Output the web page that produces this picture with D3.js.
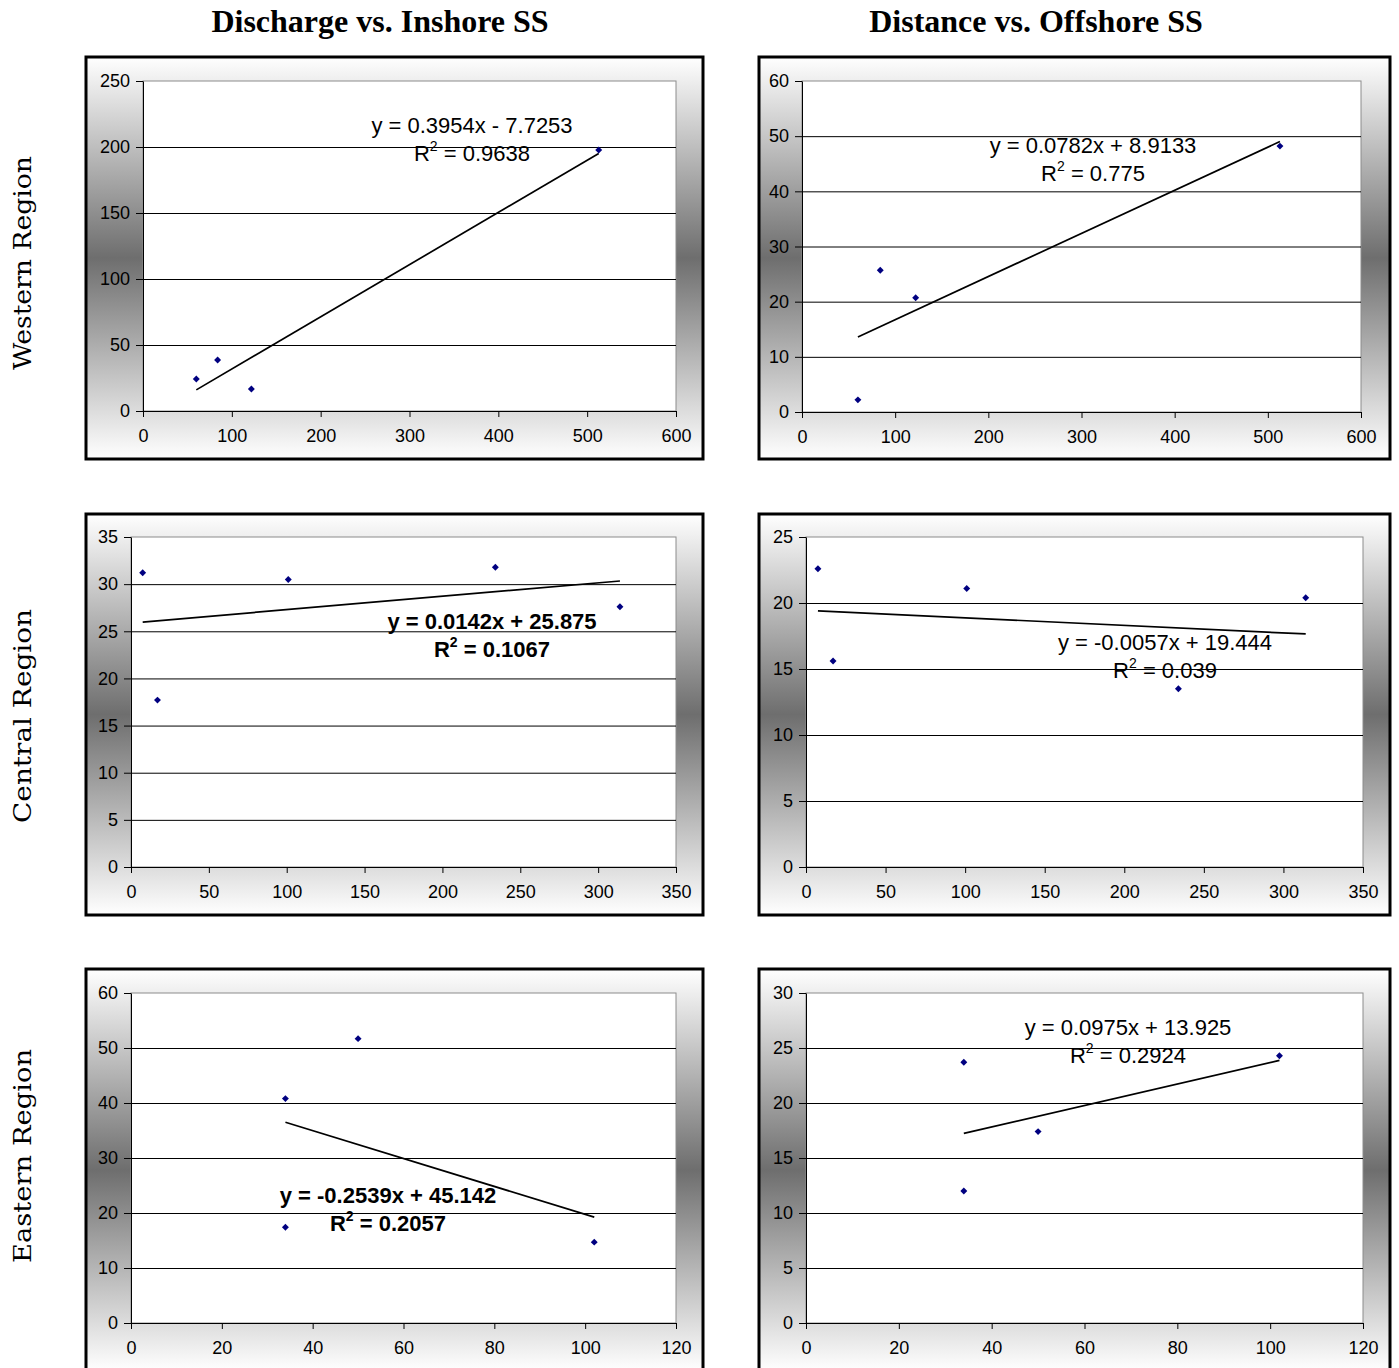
<!DOCTYPE html>
<html>
<head>
<meta charset="utf-8">
<script src="https://cdn.jsdelivr.net/npm/d3@7"></script>
<style>
  body { margin: 0; background: #fff; }
  text { font-family: "Liberation Sans", Arial, sans-serif; }
</style>
</head>
<body>
<svg id="chart" width="1399" height="1368"></svg>
<script>
// ---- data ----
const columnTitles = ["Discharge vs. Inshore SS", "Distance vs. Offshore SS"];
const rowTitles = ["Western Region", "Central Region", "Eastern Region"];

const westX = [60, 84, 122, 513];
const westInshore = [24.2, 38.6, 16.7, 197.7];
const westOffshore = [2.2, 25.7, 20.7, 48.2];

const centralX = [7.5, 17, 101, 234, 314];
const centralInshore = [31.2, 17.7, 30.5, 31.8, 27.6];
const centralOffshore = [22.6, 15.6, 21.1, 13.5, 20.4];

const eastX = [34, 50, 34, 102];
const eastInshore = [40.8, 51.7, 17.4, 14.7];
const eastOffshore = [23.7, 17.4, 12.0, 24.3];

// trendline equations as printed on each panel
const slopes = ["0.3954", "0.0782", "0.0142", "-0.0057", "-0.2539", "0.0975"];
const intercepts = ["-7.7253", "8.9133", "25.875", "19.444", "45.142", "13.925"];
const rSquared = ["0.9638", "0.775", "0.1067", "0.039", "0.2057", "0.2924"];

// axis ranges and tick steps per panel
const xMax = [600, 600, 350, 350, 120, 120];
const xStep = [100, 100, 50, 50, 20, 20];
const yMax = [250, 60, 35, 25, 60, 30];
const yStep = [50, 10, 5, 5, 10, 5];

const seriesX = [westX, westX, centralX, centralX, eastX, eastX];
const seriesY = [westInshore, westOffshore, centralInshore, centralOffshore, eastInshore, eastOffshore];

// ---- layout ----
const frames = [
  {x: 86, y: 57, w: 617, h: 402}, {x: 759, y: 57, w: 631, h: 402},
  {x: 86, y: 514, w: 617, h: 401}, {x: 759, y: 514, w: 631, h: 401},
  {x: 86, y: 969, w: 617, h: 402}, {x: 759, y: 969, w: 631, h: 402}
];
const plots = [
  {x: 143, y: 81, w: 533, h: 330}, {x: 802, y: 81, w: 559, h: 331},
  {x: 131, y: 537, w: 545, h: 330}, {x: 806, y: 537, w: 557, h: 330},
  {x: 131, y: 993, w: 545, h: 330}, {x: 806, y: 993, w: 557, h: 330}
];
// equation label: centre x and first baseline, relative to plot's top-left
const labelPos = [[329, 52], [291, 72], [361, 92], [359, 113], [257, 210], [322, 42]];
const boldLabel = [false, false, true, false, true, false];

const svg = d3.select("#chart");

const defs = svg.append("defs");
const grad = defs.append("linearGradient")
  .attr("id", "bg").attr("x1", 0).attr("y1", 0).attr("x2", 0).attr("y2", 1);
grad.append("stop").attr("offset", "0%").attr("stop-color", "#ffffff");
grad.append("stop").attr("offset", "50%").attr("stop-color", "#6e6e6e");
grad.append("stop").attr("offset", "100%").attr("stop-color", "#ffffff");

// column titles
[380, 1036].forEach((cx, i) => {
  svg.append("text")
    .attr("x", cx).attr("y", 32)
    .attr("text-anchor", "middle")
    .style("font-family", "'Liberation Serif', 'Times New Roman', serif")
    .style("font-weight", "bold")
    .style("font-size", "32px")
    .text(columnTitles[i]);
});

// row titles
[263, 716, 1156].forEach((cy, i) => {
  svg.append("text")
    .attr("transform", `translate(31,${cy}) rotate(-90)`)
    .attr("text-anchor", "middle")
    .attr("textLength", 214)
    .attr("lengthAdjust", "spacingAndGlyphs")
    .style("font-family", "'DejaVu Serif', serif")
    .style("font-size", "25px")
    .text(rowTitles[i]);
});

function eqText(i) {
  const b = intercepts[i];
  const sign = b.startsWith("-") ? " - " : " + ";
  return `y = ${slopes[i]}x${sign}${b.replace("-", "")}`;
}

plots.forEach((p, i) => {
  const f = frames[i];
  svg.append("rect")
    .attr("x", f.x).attr("y", f.y).attr("width", f.w).attr("height", f.h)
    .attr("fill", "url(#bg)")
    .attr("stroke", "#000").attr("stroke-width", 3);

  const g = svg.append("g").attr("transform", `translate(${p.x},${p.y})`);

  const x = d3.scaleLinear().domain([0, xMax[i]]).range([0, p.w]);
  const y = d3.scaleLinear().domain([0, yMax[i]]).range([p.h, 0]);
  const xTicks = d3.range(0, xMax[i] + xStep[i] / 2, xStep[i]);
  const yTicks = d3.range(0, yMax[i] + yStep[i] / 2, yStep[i]);

  g.append("rect")
    .attr("width", p.w).attr("height", p.h)
    .attr("fill", "#fff").attr("stroke", "#8c8c8c").attr("stroke-width", 1);

  g.selectAll(".grid")
    .data(yTicks.filter(v => v > 0 && v < yMax[i]))
    .enter().append("line")
    .attr("x1", 0).attr("x2", p.w)
    .attr("y1", d => y(d) + 0.5).attr("y2", d => y(d) + 0.5)
    .attr("stroke", "#000").attr("stroke-width", 1);

  const yAxis = g.append("g")
    .call(d3.axisLeft(y).tickValues(yTicks).tickSize(7).tickPadding(6).tickSizeOuter(0));
  const xAxis = g.append("g")
    .attr("transform", `translate(0,${p.h})`)
    .call(d3.axisBottom(x).tickValues(xTicks).tickSize(6).tickPadding(12).tickSizeOuter(0));
  [xAxis, yAxis].forEach(a => {
    a.selectAll("text").style("font-size", "18px").attr("fill", "#000")
      .style("font-family", "'Liberation Sans', Arial, sans-serif");
    a.selectAll("path, line").attr("stroke", "#000");
  });

  // trendline over the x extent of the series
  const m = +slopes[i], b = +intercepts[i];
  const ext = d3.extent(seriesX[i]);
  g.append("path")
    .datum(ext)
    .attr("d", d3.line().x(d => x(d)).y(d => y(m * d + b)))
    .attr("fill", "none").attr("stroke", "#000").attr("stroke-width", 1.7);

  const pts = seriesX[i].map((v, k) => [v, seriesY[i][k]]);
  g.selectAll(".pt")
    .data(pts)
    .enter().append("path")
    .attr("d", d3.symbol(d3.symbolSquare, 24))
    .attr("transform", d => `translate(${x(d[0])},${y(d[1])}) rotate(45)`)
    .attr("fill", "#000080");

  const [lx, ly] = labelPos[i];
  const weight = boldLabel[i] ? "bold" : "normal";
  g.append("text")
    .attr("x", lx).attr("y", ly)
    .attr("text-anchor", "middle")
    .style("font-size", "22px").style("font-weight", weight)
    .text(eqText(i));
  const r = g.append("text")
    .attr("x", lx).attr("y", ly + 28)
    .attr("text-anchor", "middle")
    .style("font-size", "22px").style("font-weight", weight);
  r.append("tspan").text("R");
  r.append("tspan").attr("dy", -10).style("font-size", "14px").text("2");
  r.append("tspan").attr("dy", 10).text(` = ${rSquared[i]}`);
});
</script>
</body>
</html>
